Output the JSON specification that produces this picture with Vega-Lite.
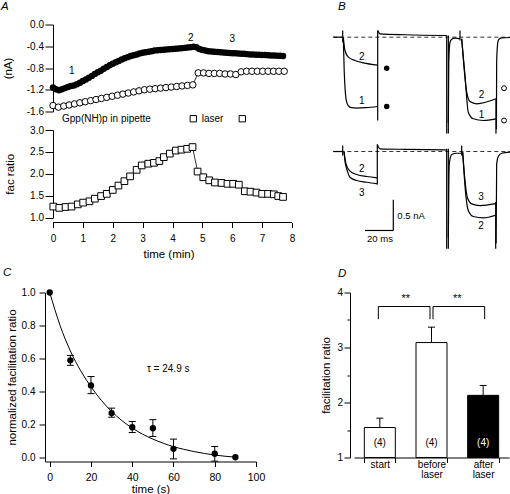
{
"$schema":"https://vega.github.io/schema/vega-lite/v6.json",
"padding":{"left":1,"top":0.5,"right":0,"bottom":0},
"background":"white",
"config":{
 "font":"Liberation Sans",
 "view":{"stroke":null},
 "axis":{"domainColor":"black","tickColor":"black","labelColor":"black","titleColor":"black","labelFontSize":10,"titleFontSize":11.5,"titleFontWeight":"normal","grid":false,"tickSize":6,"labelPadding":2,"labelOverlap":false,"labelFlush":false},
 "text":{"color":"black"}
},
"datasets":{
 "filledI":[{"t":0.0,"v":-1.16},{"t":0.1,"v":-1.19},{"t":0.2,"v":-1.21},{"t":0.3,"v":-1.19},{"t":0.4,"v":-1.17},{"t":0.5,"v":-1.15},{"t":0.6,"v":-1.13},{"t":0.7,"v":-1.12},{"t":0.8,"v":-1.1},{"t":0.9,"v":-1.07},{"t":1.0,"v":-1.04},{"t":1.1,"v":-1.01},{"t":1.2,"v":-0.98},{"t":1.3,"v":-0.945},{"t":1.4,"v":-0.91},{"t":1.5,"v":-0.88},{"t":1.6,"v":-0.85},{"t":1.7,"v":-0.815},{"t":1.8,"v":-0.78},{"t":1.9,"v":-0.75},{"t":2.0,"v":-0.72},{"t":2.1,"v":-0.695},{"t":2.2,"v":-0.67},{"t":2.3,"v":-0.645},{"t":2.4,"v":-0.62},{"t":2.5,"v":-0.6},{"t":2.6,"v":-0.58},{"t":2.7,"v":-0.565},{"t":2.8,"v":-0.55},{"t":2.9,"v":-0.535},{"t":3.0,"v":-0.52},{"t":3.1,"v":-0.51},{"t":3.2,"v":-0.5},{"t":3.3,"v":-0.49},{"t":3.4,"v":-0.48},{"t":3.5,"v":-0.475},{"t":3.6,"v":-0.47},{"t":3.7,"v":-0.465},{"t":3.8,"v":-0.46},{"t":3.9,"v":-0.455},{"t":4.0,"v":-0.45},{"t":4.1,"v":-0.445},{"t":4.2,"v":-0.44},{"t":4.3,"v":-0.435},{"t":4.4,"v":-0.43},{"t":4.5,"v":-0.425},{"t":4.6,"v":-0.42},{"t":4.7,"v":-0.41},{"t":4.8,"v":-0.42},{"t":4.9,"v":-0.45},{"t":5.0,"v":-0.47},{"t":5.1,"v":-0.48},{"t":5.2,"v":-0.49},{"t":5.3,"v":-0.495},{"t":5.4,"v":-0.5},{"t":5.5,"v":-0.505},{"t":5.6,"v":-0.51},{"t":5.7,"v":-0.515},{"t":5.8,"v":-0.52},{"t":5.9,"v":-0.525},{"t":6.0,"v":-0.53},{"t":6.1,"v":-0.53},{"t":6.2,"v":-0.535},{"t":6.3,"v":-0.54},{"t":6.4,"v":-0.54},{"t":6.5,"v":-0.545},{"t":6.6,"v":-0.55},{"t":6.7,"v":-0.55},{"t":6.8,"v":-0.555},{"t":6.9,"v":-0.555},{"t":7.0,"v":-0.56},{"t":7.1,"v":-0.56},{"t":7.2,"v":-0.565},{"t":7.3,"v":-0.57},{"t":7.4,"v":-0.57},{"t":7.5,"v":-0.575},{"t":7.6,"v":-0.575},{"t":7.7,"v":-0.58}],
 "openI":[{"t":0.0,"v":-1.49},{"t":0.18,"v":-1.52},{"t":0.36,"v":-1.5},{"t":0.54,"v":-1.48},{"t":0.72,"v":-1.46},{"t":0.9,"v":-1.44},{"t":1.08,"v":-1.42},{"t":1.26,"v":-1.4},{"t":1.44,"v":-1.38},{"t":1.62,"v":-1.36},{"t":1.8,"v":-1.34},{"t":1.98,"v":-1.32},{"t":2.16,"v":-1.3},{"t":2.34,"v":-1.28},{"t":2.52,"v":-1.26},{"t":2.7,"v":-1.24},{"t":2.88,"v":-1.22},{"t":3.06,"v":-1.2},{"t":3.24,"v":-1.19},{"t":3.42,"v":-1.18},{"t":3.6,"v":-1.17},{"t":3.78,"v":-1.16},{"t":3.96,"v":-1.15},{"t":4.14,"v":-1.14},{"t":4.32,"v":-1.13},{"t":4.5,"v":-1.12},{"t":4.68,"v":-1.11},{"t":4.86,"v":-0.89},{"t":5.04,"v":-0.89},{"t":5.22,"v":-0.9},{"t":5.4,"v":-0.9},{"t":5.58,"v":-0.9},{"t":5.76,"v":-0.91},{"t":5.94,"v":-0.91},{"t":6.12,"v":-0.92},{"t":6.3,"v":-0.87},{"t":6.48,"v":-0.86},{"t":6.66,"v":-0.86},{"t":6.84,"v":-0.86},{"t":7.02,"v":-0.86},{"t":7.2,"v":-0.86},{"t":7.38,"v":-0.86},{"t":7.56,"v":-0.86},{"t":7.74,"v":-0.86}],
 "numA":[{"t":0.626,"v":-0.858,"label":"1"},{"t":4.61,"v":-0.245,"label":"2"},{"t":6.0,"v":-0.263,"label":"3"}],
 "noteA":[{"t":0.301,"v":-1.79,"label":"Gpp(NH)p in pipette"},{"t":4.977,"v":-1.79,"label":"laser"}],
 "laserA":[{"t":4.696,"v":-1.733},{"t":6.336,"v":-1.733}],
 "facA":[{"t":0.01,"v":1.25},{"t":0.21,"v":1.22},{"t":0.42,"v":1.24},{"t":0.62,"v":1.25},{"t":0.83,"v":1.3},{"t":1.01,"v":1.34},{"t":1.22,"v":1.37},{"t":1.4,"v":1.43},{"t":1.61,"v":1.49},{"t":1.8,"v":1.54},{"t":2.0,"v":1.63},{"t":2.19,"v":1.73},{"t":2.39,"v":1.83},{"t":2.58,"v":1.94},{"t":2.8,"v":2.09},{"t":2.97,"v":2.19},{"t":3.19,"v":2.23},{"t":3.38,"v":2.25},{"t":3.56,"v":2.29},{"t":3.71,"v":2.38},{"t":3.91,"v":2.46},{"t":4.11,"v":2.53},{"t":4.3,"v":2.55},{"t":4.49,"v":2.57},{"t":4.67,"v":2.61},{"t":4.84,"v":2.05},{"t":5.03,"v":1.92},{"t":5.23,"v":1.85},{"t":5.42,"v":1.8},{"t":5.64,"v":1.79},{"t":5.84,"v":1.77},{"t":6.03,"v":1.77},{"t":6.22,"v":1.75},{"t":6.42,"v":1.6},{"t":6.61,"v":1.59},{"t":6.81,"v":1.57},{"t":7.0,"v":1.54},{"t":7.2,"v":1.54},{"t":7.39,"v":1.53},{"t":7.54,"v":1.49},{"t":7.7,"v":1.47}],
 "btopC":[{"s":"pre","ms":-1.2,"nA":0},{"s":"pre","ms":5.4,"nA":0},
  {"s":"p12","ms":5.86,"nA":0},{"s":"p12","ms":7.06,"nA":-0.217},{"s":"p12","ms":9.39,"nA":-0.326},{"s":"p12","ms":14.11,"nA":-0.38},{"s":"p12","ms":19.97,"nA":-0.418},{"s":"p12","ms":30.13,"nA":-0.455},
  {"s":"p11","ms":5.86,"nA":0},{"s":"p11","ms":6.5,"nA":-0.55},{"s":"p11","ms":7.3,"nA":-0.9},{"s":"p11","ms":8.26,"nA":-1.06},{"s":"p11","ms":9.5,"nA":-1.12},{"s":"p11","ms":11.5,"nA":-1.15},{"s":"p11","ms":15.31,"nA":-1.158},{"s":"p11","ms":22,"nA":-1.15},{"s":"p11","ms":30.13,"nA":-1.13},
  {"s":"int","ms":30.13,"nA":0.109},{"s":"int","ms":31.76,"nA":0.055},{"s":"int","ms":50,"nA":0.04},{"s":"int","ms":78.83,"nA":0.028},
  {"s":"r1","ms":79.98,"nA":-1.4},{"s":"r1","ms":80.3,"nA":-0.4},{"s":"r1","ms":81.16,"nA":-0.082},{"s":"r1","ms":82.36,"nA":-0.035},{"s":"r1","ms":84.69,"nA":-0.016},{"s":"r1","ms":87.01,"nA":-0.022},{"s":"r1","ms":88.21,"nA":-0.026},
  {"s":"p22","ms":89.41,"nA":-0.026},{"s":"p22","ms":90.54,"nA":-0.352},{"s":"p22","ms":92.94,"nA":-0.897},{"s":"p22","ms":95.27,"nA":-1.049},{"s":"p22","ms":100,"nA":-1.086},{"s":"p22","ms":113.6,"nA":-1.005},
  {"s":"p21","ms":89.41,"nA":-0.026},{"s":"p21","ms":91.74,"nA":-0.625},{"s":"p21","ms":94.07,"nA":-1.223},{"s":"p21","ms":97.6,"nA":-1.331},{"s":"p21","ms":104.66,"nA":-1.359},{"s":"p21","ms":113.6,"nA":-1.331},
  {"s":"r2","ms":113.9,"nA":-1.5},{"s":"r2","ms":114.1,"nA":-0.4},{"s":"r2","ms":114.6,"nA":-0.15},{"s":"r2","ms":115.2,"nA":-0.054},{"s":"r2","ms":116.3,"nA":-0.02},{"s":"r2","ms":117.6,"nA":-0.01},{"s":"r2","ms":123.5,"nA":-0.005}],
 "btopR":[{"ms":5.43,"a":0.109,"b":-0.082},{"ms":30.13,"a":0.109,"b":-1.359},{"ms":78.83,"a":0.028,"b":-1.571},{"ms":79.98,"a":0.028,"b":-1.571},{"ms":88.21,"a":0.109,"b":-0.054},{"ms":113.6,"a":-1.005,"b":-1.576}],
 "btopM":[{"ms":36.49,"nA":-0.506,"k":"f"},{"ms":36.49,"nA":-1.13,"k":"f"},{"ms":119.3,"nA":-0.832,"k":"o"},{"ms":119.3,"nA":-1.359,"k":"o"}],
 "btopL":[{"ms":18.84,"nA":-0.326,"label":"2"},{"ms":18.84,"nA":-1.033,"label":"1"},{"ms":103.5,"nA":-0.951,"label":"2"},{"ms":103.5,"nA":-1.277,"label":"1"}],
 "bbotC":[{"s":"pre","ms":-1.2,"nA":0},{"s":"pre","ms":5.4,"nA":0},
  {"s":"p12","ms":6.35,"nA":0},{"s":"p12","ms":7.76,"nA":-0.201},{"s":"p12","ms":10.59,"nA":-0.321},{"s":"p12","ms":15.31,"nA":-0.375},{"s":"p12","ms":22.37,"nA":-0.408},{"s":"p12","ms":29.85,"nA":-0.429},
  {"s":"p13","ms":6.35,"nA":0},{"s":"p13","ms":7.3,"nA":-0.2},{"s":"p13","ms":8.26,"nA":-0.282},{"s":"p13","ms":10.59,"nA":-0.419},{"s":"p13","ms":15.31,"nA":-0.473},{"s":"p13","ms":22.37,"nA":-0.501},{"s":"p13","ms":29.85,"nA":-0.527},
  {"s":"int","ms":29.85,"nA":0.114},{"s":"int","ms":31.76,"nA":0.044},{"s":"int","ms":50,"nA":0.035},{"s":"int","ms":78.83,"nA":0.028},
  {"s":"r1","ms":79.98,"nA":-1.4},{"s":"r1","ms":80.3,"nA":-0.6},{"s":"r1","ms":80.66,"nA":-0.201},{"s":"r1","ms":82.36,"nA":-0.049},{"s":"r1","ms":85.89,"nA":-0.028},{"s":"r1","ms":89.41,"nA":-0.028},
  {"s":"p23","ms":90.12,"nA":-0.011},{"s":"p23","ms":91.74,"nA":-0.473},{"s":"p23","ms":93.37,"nA":-0.746},{"s":"p23","ms":96.47,"nA":-0.854},{"s":"p23","ms":102.33,"nA":-0.881},{"s":"p23","ms":113.4,"nA":-0.85},
  {"s":"p22","ms":90.12,"nA":-0.011},{"s":"p22","ms":92.24,"nA":-0.69},{"s":"p22","ms":94.07,"nA":-0.962},{"s":"p22","ms":97.6,"nA":-1.06},{"s":"p22","ms":104.66,"nA":-1.082},{"s":"p22","ms":113.4,"nA":-1.04},
  {"s":"r2","ms":113.7,"nA":-1.5},{"s":"r2","ms":114.1,"nA":-0.201},{"s":"r2","ms":115.2,"nA":-0.082},{"s":"r2","ms":117.6,"nA":-0.028},{"s":"r2","ms":123.5,"nA":-0.011}],
 "bbotR":[{"ms":5.43,"a":0.098,"b":-0.065},{"ms":29.85,"a":0.114,"b":-0.538},{"ms":78.83,"a":0.044,"b":-1.587},{"ms":79.98,"a":0.044,"b":-1.587},{"ms":89.41,"a":0.098,"b":-0.065},{"ms":113.4,"a":-0.825,"b":-1.587},{"ms":41.14,"a":-0.788,"b":-1.288}],
 "bbotH":[{"ms":21.14,"ms2":41.14,"nA":-1.288}],
 "bbotL":[{"ms":18.84,"nA":-0.282,"label":"2"},{"ms":18.84,"nA":-0.68,"label":"3"},{"ms":103,"nA":-0.746,"label":"3"},{"ms":103,"nA":-1.223,"label":"2"}],
 "dashB":[{"ms":-1.2,"ms2":123.5,"nA":0}],
 "fitC":[{"t":0,"f":1.0},{"t":5,"f":0.8},{"t":10,"f":0.645},{"t":15,"f":0.525},{"t":20,"f":0.428},{"t":25,"f":0.345},{"t":30,"f":0.278},{"t":35,"f":0.222},{"t":40,"f":0.177},{"t":45,"f":0.14},{"t":50,"f":0.11},{"t":55,"f":0.085},{"t":60,"f":0.064},{"t":65,"f":0.048},{"t":70,"f":0.034},{"t":75,"f":0.023},{"t":80,"f":0.013},{"t":85,"f":0.006},{"t":90,"f":0.0}],
 "ptsC":[{"t":0,"m":1.0},{"t":10,"m":0.588,"lo":0.558,"hi":0.618},{"t":20,"m":0.436,"lo":0.386,"hi":0.49},{"t":30,"m":0.268,"lo":0.243,"hi":0.298},{"t":40,"m":0.182,"lo":0.15,"hi":0.217},{"t":50,"m":0.176,"lo":0.126,"hi":0.228},{"t":60,"m":0.051,"lo":-0.01,"hi":0.11},{"t":80,"m":0.021,"lo":-0.024,"hi":0.065},{"t":90,"m":0.0}],
 "barD":[{"cat":"start","m":1.545,"hi":1.715,"n":"(4)"},{"cat":"before laser","m":3.09,"hi":3.37,"n":"(4)"},{"cat":"after laser","m":2.13,"hi":2.31,"n":"(4)"}],
 "brkD":[{"side":"L","cat":"start","y":3.515,"o":0},{"side":"L","cat":"start","y":3.745,"o":1},{"side":"L","cat":"before laser","y":3.745,"o":2},{"side":"L","cat":"before laser","y":3.515,"o":3},{"side":"R","cat":"before laser","y":3.515,"o":0},{"side":"R","cat":"before laser","y":3.745,"o":1},{"side":"R","cat":"after laser","y":3.745,"o":2},{"side":"R","cat":"after laser","y":3.515,"o":3}],
 "starD":[{"cat":"before laser","y":3.83,"s":"**"},{"cat":"after laser","y":3.83,"s":"**"}]
},
"columns":2,
"bounds":"flush",
"spacing":{"row":18.5,"column":62},
"concat":[
 {
  "width":247,"height":87,
  "layer":[
   {"data":{"name":"openI"},"mark":{"type":"line","color":"black","strokeWidth":0.8},
    "encoding":{"x":{"field":"t","type":"quantitative","scale":{"domain":[-0.268,8],"nice":false,"zero":false},"axis":null},
     "y":{"field":"v","type":"quantitative","scale":{"domain":[-1.6,0],"nice":false,"zero":false},"axis":{"title":"(nA)","values":[0,-0.4,-0.8,-1.2,-1.6],"tickCount":20,"offset":-8,"tickSize":8,"labelPadding":1.5,"labelExpr":"replace(format(datum.value,'.1f'),'\u2212','-')","titlePadding":13}}}},
   {"data":{"name":"openI"},"mark":{"type":"point","shape":"circle","filled":true,"fill":"white","stroke":"black","strokeWidth":1,"size":42,"opacity":1},
    "encoding":{"x":{"field":"t","type":"quantitative"},"y":{"field":"v","type":"quantitative"}}},
   {"data":{"name":"filledI"},"mark":{"type":"point","shape":"circle","filled":true,"color":"black","size":42,"opacity":1},
    "encoding":{"x":{"field":"t","type":"quantitative"},"y":{"field":"v","type":"quantitative"}}},
   {"data":{"name":"numA"},"mark":{"type":"text","fontSize":10,"baseline":"middle"},
    "encoding":{"x":{"field":"t","type":"quantitative"},"y":{"field":"v","type":"quantitative"},"text":{"field":"label"}}},
   {"data":{"name":"noteA"},"mark":{"type":"text","fontSize":10,"align":"left","baseline":"alphabetic"},
    "encoding":{"x":{"field":"t","type":"quantitative"},"y":{"field":"v","type":"quantitative"},"text":{"field":"label"}}},
   {"data":{"name":"laserA"},"mark":{"type":"point","shape":"square","filled":false,"color":"black","strokeWidth":1,"size":40,"opacity":1},
    "encoding":{"x":{"field":"t","type":"quantitative"},"y":{"field":"v","type":"quantitative"}}},
   {"data":{"values":[{"t":-1.74,"v":0.267,"label":"A"}]},"mark":{"type":"text","fontSize":11.5,"fontStyle":"italic","align":"left","baseline":"alphabetic"},
    "encoding":{"x":{"field":"t","type":"quantitative"},"y":{"field":"v","type":"quantitative"},"text":{"field":"label"}}}
  ]
 },
 {
  "width":155,"height":87,
  "layer":[
   {"data":{"name":"dashB"},"mark":{"type":"rule","color":"#333","strokeWidth":1,"strokeDash":[4,3]},
    "encoding":{"x":{"field":"ms","type":"quantitative","scale":{"domain":[13.41,122.8],"nice":false,"zero":false},"axis":null},"x2":{"field":"ms2"},
     "y":{"field":"nA","type":"quantitative","scale":{"domain":[-1.212,0.207],"nice":false,"zero":false},"axis":null}}},
   {"data":{"name":"btopC"},"mark":{"type":"line","color":"black","strokeWidth":1.2,"interpolate":"monotone"},
    "encoding":{"x":{"field":"ms","type":"quantitative"},"y":{"field":"nA","type":"quantitative"},"detail":{"field":"s"}}},
   {"data":{"name":"btopR"},"mark":{"type":"rule","color":"black","strokeWidth":1.2},
    "encoding":{"x":{"field":"ms","type":"quantitative"},"y":{"field":"a","type":"quantitative"},"y2":{"field":"b"}}},
   {"data":{"name":"btopM"},"transform":[{"filter":"datum.k === 'f'"}],"mark":{"type":"point","shape":"circle","filled":true,"color":"black","size":30,"opacity":1},
    "encoding":{"x":{"field":"ms","type":"quantitative"},"y":{"field":"nA","type":"quantitative"}}},
   {"data":{"name":"btopM"},"transform":[{"filter":"datum.k === 'o'"}],"mark":{"type":"point","shape":"circle","filled":false,"color":"black","strokeWidth":1,"size":24,"opacity":1},
    "encoding":{"x":{"field":"ms","type":"quantitative"},"y":{"field":"nA","type":"quantitative"}}},
   {"data":{"name":"btopL"},"mark":{"type":"text","fontSize":10,"baseline":"middle"},
    "encoding":{"x":{"field":"ms","type":"quantitative"},"y":{"field":"nA","type":"quantitative"},"text":{"field":"label"}}},
   {"data":{"values":[{"ms":2.12,"nA":0.444,"label":"B"}]},"mark":{"type":"text","fontSize":11.5,"fontStyle":"italic","align":"left","baseline":"alphabetic"},
    "encoding":{"x":{"field":"ms","type":"quantitative"},"y":{"field":"nA","type":"quantitative"},"text":{"field":"label"}}}
  ]
 },
 {
  "width":247,"height":87.5,
  "layer":[
   {"data":{"name":"facA"},"mark":{"type":"line","color":"black","strokeWidth":0.8},
    "encoding":{"x":{"field":"t","type":"quantitative","scale":{"domain":[-0.268,8],"nice":false,"zero":false},"axis":{"title":"time (min)","values":[0,1,2,3,4,5,6,7,8],"format":"d","tickCount":20,"offset":5,"domain":false,"tickSize":5,"labelPadding":6,"titlePadding":5}},
     "y":{"field":"v","type":"quantitative","scale":{"domain":[1,3],"nice":false,"zero":false},"axis":{"title":"fac ratio","values":[1,1.5,2,2.5,3],"tickCount":20,"format":".1f","offset":-8,"tickSize":8,"labelPadding":1.5,"titlePadding":14}}}},
   {"data":{"name":"facA"},"mark":{"type":"point","shape":"square","filled":true,"fill":"white","stroke":"black","strokeWidth":1,"size":45,"opacity":1},
    "encoding":{"x":{"field":"t","type":"quantitative"},"y":{"field":"v","type":"quantitative"}}},
   {"data":{"values":[{}]},"mark":{"type":"rule","color":"black","strokeWidth":1},
    "encoding":{"x":{"datum":0},"x2":{"datum":8},"y":{"datum":0.886}}}
  ]
 },
 {
  "width":155,"height":144,
  "layer":[
   {"data":{"name":"dashB"},"mark":{"type":"rule","color":"#333","strokeWidth":1,"strokeDash":[4,3]},
    "encoding":{"x":{"field":"ms","type":"quantitative","scale":{"domain":[13.41,122.8],"nice":false,"zero":false},"axis":null},"x2":{"field":"ms2"},
     "y":{"field":"nA","type":"quantitative","scale":{"domain":[-1.998,0.351],"nice":false,"zero":false},"axis":null}}},
   {"data":{"name":"bbotC"},"mark":{"type":"line","color":"black","strokeWidth":1.2,"interpolate":"monotone"},
    "encoding":{"x":{"field":"ms","type":"quantitative"},"y":{"field":"nA","type":"quantitative"},"detail":{"field":"s"}}},
   {"data":{"name":"bbotR"},"mark":{"type":"rule","color":"black","strokeWidth":1.2},
    "encoding":{"x":{"field":"ms","type":"quantitative"},"y":{"field":"a","type":"quantitative"},"y2":{"field":"b"}}},
   {"data":{"name":"bbotH"},"mark":{"type":"rule","color":"black","strokeWidth":1.2},
    "encoding":{"x":{"field":"ms","type":"quantitative"},"x2":{"field":"ms2"},"y":{"field":"nA","type":"quantitative"}}},
   {"data":{"name":"bbotL"},"mark":{"type":"text","fontSize":10,"baseline":"middle"},
    "encoding":{"x":{"field":"ms","type":"quantitative"},"y":{"field":"nA","type":"quantitative"},"text":{"field":"label"}}},
   {"data":{"values":[{"ms":44.0,"nA":-1.044,"label":"0.5 nA"}]},"mark":{"type":"text","fontSize":9.5,"align":"left","baseline":"middle"},
    "encoding":{"x":{"field":"ms","type":"quantitative"},"y":{"field":"nA","type":"quantitative"},"text":{"field":"label"}}},
   {"data":{"values":[{"ms":31.76,"nA":-1.424,"label":"20 ms"}]},"mark":{"type":"text","fontSize":9.5,"align":"center","baseline":"middle"},
    "encoding":{"x":{"field":"ms","type":"quantitative"},"y":{"field":"nA","type":"quantitative"},"text":{"field":"label"}}}
  ]
 },
 {
  "width":211,"height":169,
  "layer":[
   {"data":{"name":"fitC"},"mark":{"type":"line","color":"black","strokeWidth":1,"interpolate":"monotone"},
    "encoding":{"x":{"field":"t","type":"quantitative","scale":{"domain":[-2.3,100],"nice":false,"zero":false},"axis":{"title":"time (s)","values":[0,20,40,60,80,100],"format":"d","tickCount":20,"tickSize":5,"labelFontSize":10.5,"labelPadding":6,"titlePadding":0}},
     "y":{"field":"f","type":"quantitative","scale":{"domain":[-0.026,1],"nice":false,"zero":false},"axis":{"title":"normalized facilitation ratio","values":[0,0.2,0.4,0.6,0.8,1],"tickCount":20,"format":".1f","labelPadding":4,"titlePadding":4}}}},
   {"data":{"name":"ptsC"},"transform":[{"filter":"isValid(datum.lo)"}],"mark":{"type":"rule","color":"black","strokeWidth":1},
    "encoding":{"x":{"field":"t","type":"quantitative"},"y":{"field":"lo","type":"quantitative"},"y2":{"field":"hi"}}},
   {"data":{"name":"ptsC"},"transform":[{"filter":"isValid(datum.lo)"},{"fold":["lo","hi"],"as":["k","e"]}],"mark":{"type":"tick","orient":"horizontal","color":"black","size":7,"thickness":1,"opacity":1},
    "encoding":{"x":{"field":"t","type":"quantitative"},"y":{"field":"e","type":"quantitative"}}},
   {"data":{"name":"ptsC"},"mark":{"type":"point","shape":"circle","filled":true,"color":"black","size":40,"opacity":1},
    "encoding":{"x":{"field":"t","type":"quantitative"},"y":{"field":"m","type":"quantitative"}}},
   {"data":{"values":[{"t":47.1,"v":0.538,"label":"τ = 24.9 s"}]},"mark":{"type":"text","fontSize":10,"align":"left","baseline":"middle"},
    "encoding":{"x":{"field":"t","type":"quantitative"},"y":{"field":"v","type":"quantitative"},"text":{"field":"label"}}},
   {"data":{"values":[{"t":-22.66,"v":1.103,"label":"C"}]},"mark":{"type":"text","fontSize":11.5,"fontStyle":"italic","align":"left","baseline":"alphabetic"},
    "encoding":{"x":{"field":"t","type":"quantitative"},"y":{"field":"v","type":"quantitative"},"text":{"field":"label"}}}
  ]
 },
 {
  "width":155,"height":165,
  "layer":[
   {"data":{"name":"barD"},"mark":{"type":"bar","stroke":"black","strokeWidth":1},
    "encoding":{"x":{"field":"cat","type":"nominal","sort":["start","before laser","after laser"],"scale":{"paddingInner":0.4,"paddingOuter":0.2},"axis":{"title":null,"tickBand":"extent","labelAngle":0,"labelExpr":"split(datum.label,' ')","labelPadding":-3,"labelLineHeight":10,"tickSize":5}},
     "y":{"field":"m","type":"quantitative","scale":{"domain":[1,4],"nice":false,"zero":false},"axis":{"title":"facilitation ratio","values":[1,1.5,2,2.5,3,3.5,4],"tickCount":20,"labelExpr":"datum.value % 1 === 0 ? format(datum.value,'d') : ''","tickSize":{"condition":{"test":"datum.value % 1 === 0","value":6},"value":3},"offset":4,"labelPadding":1.5,"titlePadding":5}},
     "y2":{"datum":1},
     "fill":{"field":"cat","type":"nominal","scale":{"domain":["start","before laser","after laser"],"range":["white","white","black"]},"legend":null}}},
   {"data":{"name":"barD"},"mark":{"type":"rule","color":"black","strokeWidth":1},
    "encoding":{"x":{"field":"cat","type":"nominal","sort":["start","before laser","after laser"]},"y":{"field":"m","type":"quantitative"},"y2":{"field":"hi"}}},
   {"data":{"name":"barD"},"mark":{"type":"tick","orient":"horizontal","color":"black","size":7,"thickness":1,"opacity":1},
    "encoding":{"x":{"field":"cat","type":"nominal","sort":["start","before laser","after laser"]},"y":{"field":"hi","type":"quantitative"}}},
   {"data":{"name":"barD"},"transform":[{"filter":"datum.cat !== 'after laser'"}],"mark":{"type":"text","fontSize":10,"color":"black","baseline":"middle"},
    "encoding":{"x":{"field":"cat","type":"nominal","sort":["start","before laser","after laser"]},"y":{"datum":1.255},"text":{"field":"n"}}},
   {"data":{"name":"barD"},"transform":[{"filter":"datum.cat === 'after laser'"}],"mark":{"type":"text","fontSize":10,"color":"white","baseline":"middle"},
    "encoding":{"x":{"field":"cat","type":"nominal","sort":["start","before laser","after laser"]},"y":{"datum":1.255},"text":{"field":"n"}}},
   {"data":{"name":"brkD"},"transform":[{"filter":"datum.side === 'L'"}],"mark":{"type":"line","color":"black","strokeWidth":1,"xOffset":-1.5},
    "encoding":{"x":{"field":"cat","type":"nominal","sort":["start","before laser","after laser"]},"y":{"field":"y","type":"quantitative"},"order":{"field":"o"}}},
   {"data":{"name":"brkD"},"transform":[{"filter":"datum.side === 'R'"}],"mark":{"type":"line","color":"black","strokeWidth":1,"xOffset":1.5},
    "encoding":{"x":{"field":"cat","type":"nominal","sort":["start","before laser","after laser"]},"y":{"field":"y","type":"quantitative"},"order":{"field":"o"}}},
   {"data":{"name":"starD"},"mark":{"type":"text","fontSize":11,"baseline":"alphabetic"},
    "encoding":{"x":{"field":"cat","type":"nominal","sort":["start","before laser","after laser"],"bandPosition":-0.333},"y":{"field":"y","type":"quantitative"},"text":{"field":"s"}}},
   {"data":{"values":[{"cat":"start","y":4.29,"label":"D"}]},"mark":{"type":"text","fontSize":11.5,"fontStyle":"italic","align":"left","baseline":"alphabetic"},
    "encoding":{"x":{"field":"cat","type":"nominal","sort":["start","before laser","after laser"],"bandPosition":-0.848},"y":{"field":"y","type":"quantitative"},"text":{"field":"label"}}}
  ]
 }
]
}
